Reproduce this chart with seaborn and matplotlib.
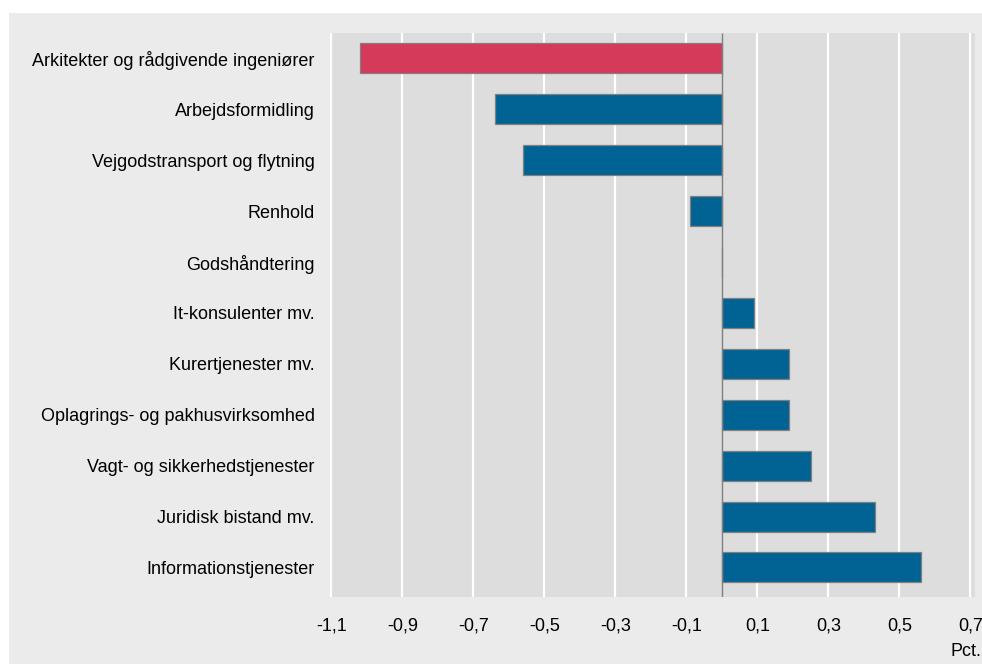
import matplotlib
matplotlib.use('Agg')
import matplotlib.pyplot as plt
import numpy as np
import pandas as pd
import seaborn as sns
from matplotlib.patches import Rectangle

categories = [
    'Arkitekter og rådgivende ingeniører',
    'Arbejdsformidling',
    'Vejgodstransport og flytning',
    'Renhold',
    'Godshåndtering',
    'It-konsulenter mv.',
    'Kurertjenester mv.',
    'Oplagrings- og pakhusvirksomhed',
    'Vagt- og sikkerhedstjenester',
    'Juridisk bistand mv.',
    'Informationstjenester',
]
values = [-1.02, -0.64, -0.56, -0.09, 0.0, 0.09, 0.19, 0.19, 0.25, 0.43, 0.56]
highlight = ['Arkitekter og rådgivende ingeniører']
xticks = [-1.1, -0.9, -0.7, -0.5, -0.3, -0.1, 0.1, 0.3, 0.5, 0.7]
xtick_labels = ['-1,1', '-0,9', '-0,7', '-0,5', '-0,3', '-0,1', '0,1', '0,3', '0,5', '0,7']

red = '#d63a5a'
blue = '#006394'
fig_bg = '#ebebeb'
plot_bg = '#dddddd'

sns.set_style('white')
plt.rcParams['font.family'] = ['Liberation Sans Narrow', 'Liberation Sans', 'DejaVu Sans']
plt.rcParams['text.color'] = 'black'
plt.rcParams['xtick.color'] = 'black'
plt.rcParams['ytick.color'] = 'black'
plt.rcParams['xtick.major.size'] = 0
plt.rcParams['ytick.major.size'] = 0

df = pd.DataFrame({'kategori': categories, 'pct': values})
palette = {c: (red if c in highlight else blue) for c in categories}

fig = plt.figure(figsize=(9.82, 6.64), dpi=100, facecolor='white')
# grey frame, leaving the white strip at top and left as in the source
fig.patches.append(Rectangle((9 / 982, 0), 1, 1 - 13 / 664, transform=fig.transFigure,
                             facecolor=fig_bg, edgecolor='none', zorder=-10))

ax = fig.add_axes([330 / 982, 1 - 597 / 664, 645 / 982, 564 / 664])
ax.set_facecolor(plot_bg)

sns.barplot(data=df, x='pct', y='kategori', hue='kategori', palette=palette,
            legend=False, orient='h', width=0.59, edgecolor='#808080',
            linewidth=0.9, saturation=1, ax=ax, zorder=3)

ax.axvline(0, color='#808080', linewidth=1.0, zorder=4, solid_capstyle='butt')

ax.set_xlim(-1.104, 0.713)
ax.set_ylim(10.58, -0.5)
ax.set_xticks(xticks)
ax.set_xticklabels(xtick_labels, fontsize=13)
ax.tick_params(axis='x', bottom=False, top=False, length=0, width=0, pad=15)
ax.tick_params(axis='y', left=False, right=False, length=0, width=0, pad=11, labelsize=13)
ax.grid(axis='x', color='white', linewidth=1.6, zorder=0, solid_capstyle='butt')
ax.set_axisbelow(True)
ax.set_xlabel('')
ax.set_ylabel('')
for s in ax.spines.values():
    s.set_visible(False)

fig.text(981 / 982, 1 - 652 / 664, 'Pct.', ha='right', va='center', fontsize=13)

fig.savefig('out.png', dpi=100)
